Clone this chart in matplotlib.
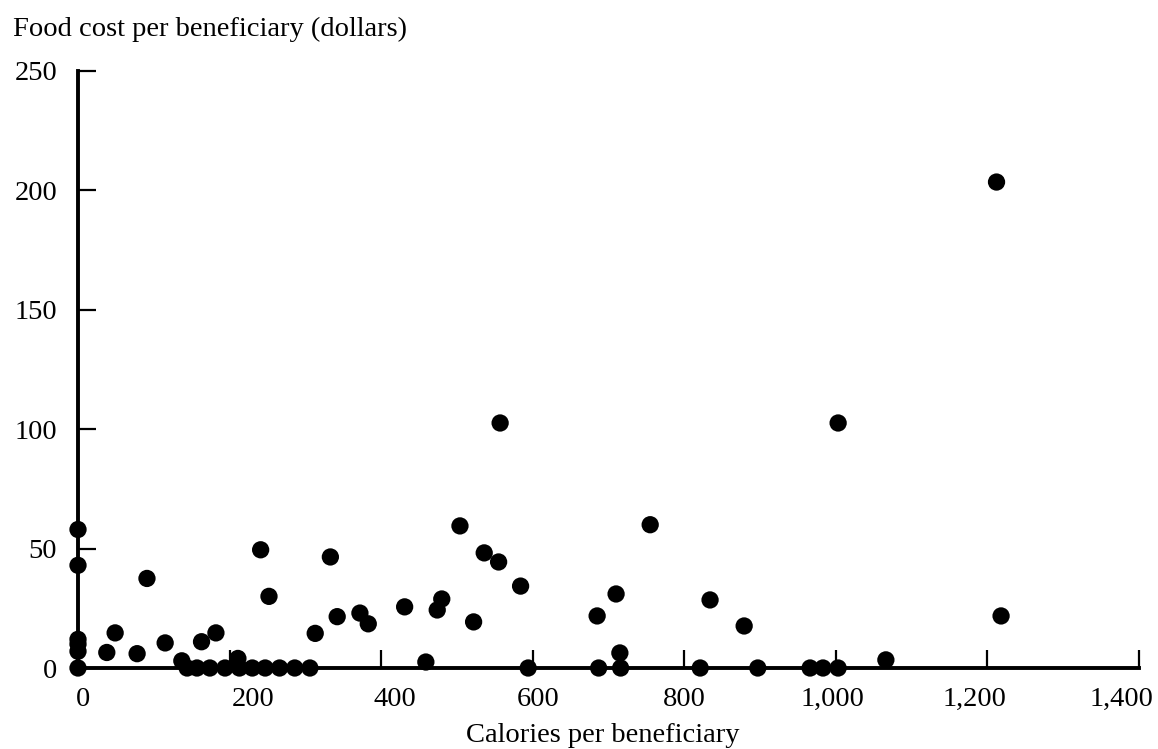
import matplotlib
matplotlib.use('Agg')
from matplotlib import pyplot as plt
from matplotlib import transforms

# calories per beneficiary / food cost per beneficiary (dollars)
calories = [0, 0, 0, 0, 0, 0,
            38, 49, 78, 91, 115, 163, 182, 241, 252, 313, 333, 342, 372, 383,
            137, 144, 157, 174, 194, 211, 213, 230, 247, 266, 286, 306,
            431, 459, 474, 480, 504, 522, 536, 555, 584, 594,
            685, 687, 710, 715, 716, 755, 821, 834, 879, 897,
            966, 983, 1003, 1066, 1218,
            557, 1003, 1212]
food_cost = [58, 43, 12, 10, 7, 0,
             6.5, 14.7, 6, 37.5, 10.5, 11, 14.7, 49.5, 30, 14.5, 46.5, 21.5, 23, 18.5,
             3, 0, 0, 0, 0, 4, 0, 0, 0, 0, 0, 0,
             25.6, 2.5, 24.3, 28.9, 59.5, 19.3, 48.2, 44.4, 34.3, 0,
             21.8, 0, 31, 6.3, 0, 60, 0, 28.5, 17.6, 0,
             0, 0, 0, 3.4, 21.8,
             102.6, 102.6, 203.5]

x_ticks = [0, 200, 400, 600, 800, 1000, 1200, 1400]
x_tick_labels = ['0', '200', '400', '600', '800', '1,000', '1,200', '1,400']
y_ticks = [0, 50, 100, 150, 200, 250]
y_tick_labels = ['0', '50', '100', '150', '200', '250']

# the scan's x labels are not centred on their ticks, shift them a bit (pixels)
x_label_nudge = [5, 24, 14, 5, 0, -3, -13, -18]

font = 'Liberation Serif'
fs = 20.5
fw = 'normal'

fig = plt.figure(figsize=(11.58, 7.49), dpi=100)
ax = fig.add_axes([78 / 1158, 81 / 749, 1061 / 1158, 597 / 749])

ax.scatter(calories, food_cost, s=155, c='black', edgecolors='none', clip_on=False, zorder=3)

ax.set_xlim(0, 1400)
ax.set_ylim(0, 250)
for side in ['top', 'right']:
    ax.spines[side].set_visible(False)
for side in ['left', 'bottom']:
    ax.spines[side].set_linewidth(2.8)
    ax.spines[side].set_capstyle('projecting')

ax.set_xticks(x_ticks)
ax.set_xticklabels([])
ax.set_yticks(y_ticks)
ax.set_yticklabels(y_tick_labels, fontfamily=font, fontsize=fs, fontweight=fw)
ax.tick_params(direction='in', length=13, width=1.6, pad=15)

xtrans = transforms.blended_transform_factory(ax.transData, ax.transAxes)
for x, lab, dx in zip(x_ticks, x_tick_labels, x_label_nudge):
    tr = transforms.offset_copy(xtrans, fig=fig, x=dx, y=-19, units='dots')
    ax.text(x, 0, lab, transform=tr, ha='center', va='top', fontfamily=font, fontsize=fs, fontweight=fw)

fig.text(13 / 1158, 1 - 36 / 749, 'Food cost per beneficiary (dollars)', ha='left', va='baseline',
         fontfamily=font, fontsize=fs, fontweight=fw)
fig.text(603 / 1158, 1 - 742 / 749, 'Calories per beneficiary', ha='center', va='baseline',
         fontfamily=font, fontsize=fs, fontweight=fw)

fig.savefig('out.png', dpi=100)
